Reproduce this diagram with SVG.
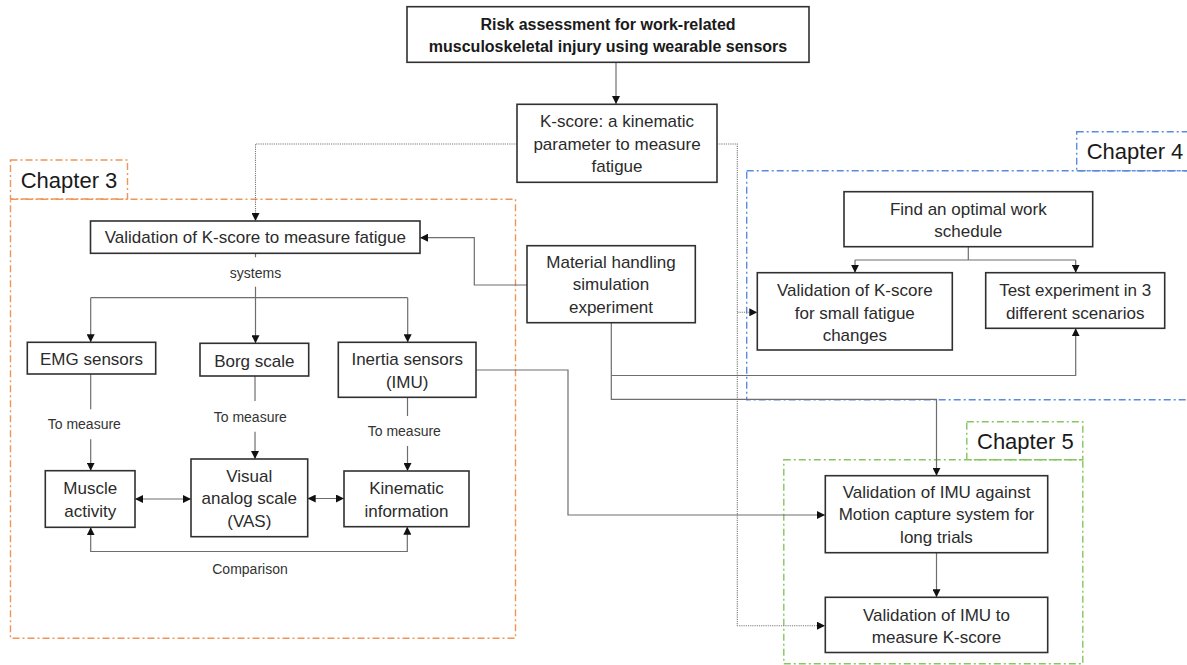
<svg xmlns="http://www.w3.org/2000/svg" width="1187" height="665" viewBox="0 0 1187 665">
<style>
.box{fill:#fff;stroke:#303030;stroke-width:1.6}
.t{font-family:"Liberation Sans",Arial,sans-serif;font-size:17px;fill:#2b2b2b;text-anchor:middle}
.tb{font-family:"Liberation Sans",Arial,sans-serif;font-size:16px;font-weight:bold;fill:#1a1a1a;text-anchor:middle}
.lbl{font-family:"Liberation Sans",Arial,sans-serif;font-size:14px;fill:#333;text-anchor:middle}
.ch{font-family:"Liberation Sans",Arial,sans-serif;font-size:22px;fill:#1a1a1a}
.c{fill:none;stroke:#6e6e6e;stroke-width:1.2}
.d{fill:none;stroke:#7a7a7a;stroke-width:1.1;stroke-dasharray:1.2 1}
.or{fill:none;stroke:#f0955a;stroke-width:1.4;stroke-dasharray:7 3 2 3}
.bl{fill:none;stroke:#5b8ae0;stroke-width:1.4;stroke-dasharray:7 3 2 3}
.gr{fill:none;stroke:#86c55f;stroke-width:1.4;stroke-dasharray:7 3 2 3}
</style>
<defs>
<marker id="ah" viewBox="0 0 8 8" refX="8" refY="4" markerWidth="8" markerHeight="8" markerUnits="userSpaceOnUse" orient="auto-start-reverse">
<path d="M0,0 L8,4 L0,8 z" fill="#111"/>
</marker>
</defs>
<rect width="1187" height="665" fill="#fff"/>

<g id="chapter3">
<rect class="or" x="10.5" y="160" width="117" height="39"/>
<rect class="or" x="10.5" y="199.3" width="505" height="439"/>
<text class="ch" x="20.7" y="188.3">Chapter 3</text>
</g>
<g id="chapter4">
<rect class="bl" x="1076.7" y="131.7" width="120" height="39"/>
<rect class="bl" x="746.7" y="170.7" width="450" height="229"/>
<text class="ch" x="1086.7" y="159">Chapter 4</text>
</g>
<g id="chapter5">
<rect class="gr" x="966.8" y="421.7" width="116" height="38"/>
<rect class="gr" x="783.8" y="459.7" width="299" height="204"/>
<text class="ch" x="977" y="449.3">Chapter 5</text>
</g>

<g id="connectors">
<path class="c" d="M616,62.3 V104" marker-end="url(#ah)"/>
<path class="d" d="M517,144 H255.5 V221" marker-end="url(#ah)"/>
<path class="d" d="M717,144 H737.3 V625.7 H825" marker-end="url(#ah)"/>
<path class="d" d="M737.3,312.3 H757.3" marker-end="url(#ah)"/>
<path class="c" d="M527,285 H474.3 V237.7 H420" marker-end="url(#ah)"/>
<path class="c" d="M255.5,253.3 V257.3"/>
<path class="c" d="M255.5,286.7 V297.7"/>
<path class="c" d="M90.7,297.7 H407.7"/>
<path class="c" d="M90.7,297.7 V342.3" marker-end="url(#ah)"/>
<path class="c" d="M255.5,297.7 V343.3" marker-end="url(#ah)"/>
<path class="c" d="M407.7,297.7 V342.3" marker-end="url(#ah)"/>
<path class="c" d="M90.7,374 V409.3"/>
<path class="c" d="M90.7,439.3 V470.7" marker-end="url(#ah)"/>
<path class="c" d="M255,376 V401"/>
<path class="c" d="M255,431.7 V459" marker-end="url(#ah)"/>
<path class="c" d="M407.5,397.3 V416"/>
<path class="c" d="M407.5,446 V471" marker-end="url(#ah)"/>
<path class="c" d="M135,499 H191" marker-start="url(#ah)" marker-end="url(#ah)"/>
<path class="c" d="M307.7,498.5 H344" marker-start="url(#ah)" marker-end="url(#ah)"/>
<path class="c" d="M90.7,527.3 V551.5 H407.3 V526.7" marker-start="url(#ah)" marker-end="url(#ah)"/>
<path class="c" d="M476,370 H568 V515 H825" marker-end="url(#ah)"/>
<path class="c" d="M611.3,322.7 V399.3 H936.5 V475.7" marker-end="url(#ah)"/>
<path class="c" d="M611.3,375.5 H1075.7 V328.3" marker-end="url(#ah)"/>
<path class="c" d="M968.3,246.7 V260 M855,260 H1075.7"/>
<path class="c" d="M855,260 V272.7" marker-end="url(#ah)"/>
<path class="c" d="M1075.7,260 V272.7" marker-end="url(#ah)"/>
<path class="c" d="M936.5,552.7 V597.3" marker-end="url(#ah)"/>
<text class="lbl" x="255.5" y="277.5">systems</text>
<text class="lbl" x="84.3" y="429">To measure</text>
<text class="lbl" x="250.3" y="421.5">To measure</text>
<text class="lbl" x="404.3" y="436">To measure</text>
<text class="lbl" x="250" y="574">Comparison</text>
</g>

<g id="risk">
<rect class="box" x="407" y="6.7" width="402" height="55.6"/>
<text class="tb" x="608" y="29.5">Risk assessment for work-related</text>
<text class="tb" x="608" y="51.5">musculoskeletal injury using wearable sensors</text>
</g>
<g id="kscore">
<rect class="box" x="517" y="104.3" width="200" height="78"/>
<text class="t" x="617" y="127">K-score: a kinematic</text>
<text class="t" x="617" y="149.5">parameter to measure</text>
<text class="t" x="617" y="172">fatigue</text>
</g>
<g id="validation">
<rect class="box" x="90.5" y="221" width="329.5" height="32.3"/>
<text class="t" x="255.3" y="243">Validation of K-score to measure fatigue</text>
</g>
<g id="material">
<rect class="box" x="527" y="245.7" width="168.3" height="77"/>
<text class="t" x="611" y="267.5">Material handling</text>
<text class="t" x="611" y="290">simulation</text>
<text class="t" x="611" y="312.5">experiment</text>
</g>
<g id="emg">
<rect class="box" x="27.3" y="342.3" width="128.4" height="31.7"/>
<text class="t" x="91.5" y="365">EMG sensors</text>
</g>
<g id="borg">
<rect class="box" x="200" y="343.3" width="108.7" height="32.7"/>
<text class="t" x="254.3" y="366.5">Borg scale</text>
</g>
<g id="imu">
<rect class="box" x="338.3" y="342.3" width="137.7" height="55"/>
<text class="t" x="407.2" y="365">Inertia sensors</text>
<text class="t" x="407.2" y="387.5">(IMU)</text>
</g>
<g id="muscle">
<rect class="box" x="45.3" y="470.7" width="89.7" height="56.6"/>
<text class="t" x="90.2" y="493.5">Muscle</text>
<text class="t" x="90.2" y="516.5">activity</text>
</g>
<g id="vas">
<rect class="box" x="191" y="459" width="116.7" height="77.7"/>
<text class="t" x="249.3" y="481.5">Visual</text>
<text class="t" x="249.3" y="504">analog scale</text>
<text class="t" x="249.3" y="527">(VAS)</text>
</g>
<g id="kinematic">
<rect class="box" x="344" y="471" width="125" height="55.7"/>
<text class="t" x="406.5" y="494">Kinematic</text>
<text class="t" x="406.5" y="516.5">information</text>
</g>
<g id="optimal">
<rect class="box" x="844" y="191.7" width="248.7" height="55"/>
<text class="t" x="968.3" y="215">Find an optimal work</text>
<text class="t" x="968.3" y="237">schedule</text>
</g>
<g id="smallfatigue">
<rect class="box" x="757.3" y="272.7" width="195" height="77.3"/>
<text class="t" x="854.8" y="296">Validation of K-score</text>
<text class="t" x="854.8" y="318.5">for small fatigue</text>
<text class="t" x="854.8" y="340.5">changes</text>
</g>
<g id="testexp">
<rect class="box" x="985.7" y="272.7" width="179" height="55.6"/>
<text class="t" x="1075.2" y="296">Test experiment in 3</text>
<text class="t" x="1075.2" y="318.5">different scenarios</text>
</g>
<g id="imumocap">
<rect class="box" x="825.3" y="475.7" width="222.4" height="77"/>
<text class="t" x="936.5" y="497.5">Validation of IMU against</text>
<text class="t" x="936.5" y="520">Motion capture system for</text>
<text class="t" x="936.5" y="542.5">long trials</text>
</g>
<g id="imukscore">
<rect class="box" x="825.3" y="597.3" width="222.4" height="55.2"/>
<text class="t" x="936.5" y="621">Validation of IMU to</text>
<text class="t" x="936.5" y="643">measure K-score</text>
</g>
</svg>
